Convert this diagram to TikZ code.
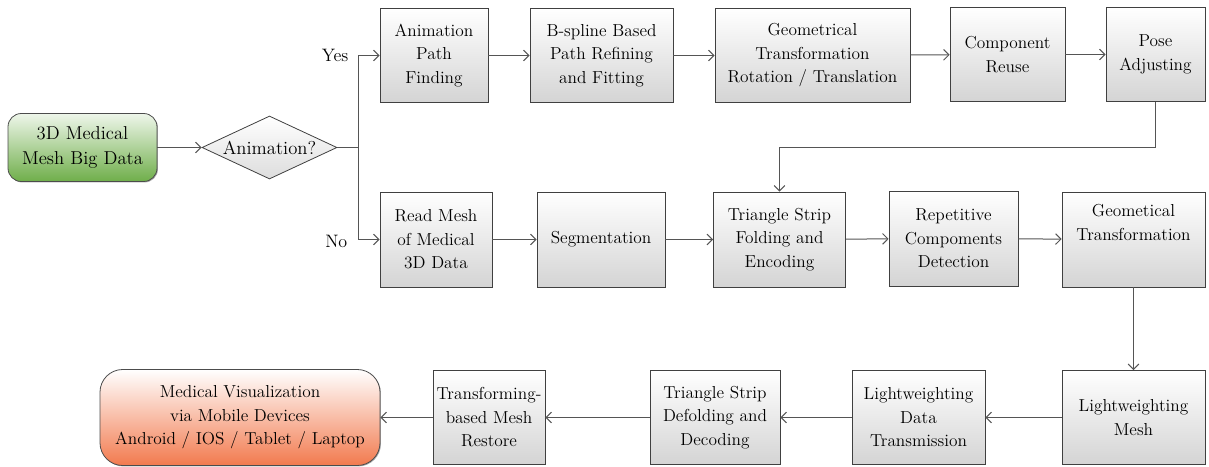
\documentclass[tikz,border=0pt]{standalone}
\usepackage{fontspec}
\usetikzlibrary{shapes.geometric,arrows.meta,shadows}
\definecolor{linegray}{HTML}{555555}
\definecolor{boxgray}{HTML}{D4D4D4}
\definecolor{startgreen}{HTML}{6FAE4A}
\definecolor{startlight}{HTML}{EEF6EA}
\definecolor{endorange}{HTML}{F27A4E}
\begin{document}
\begin{tikzpicture}[x=0.75pt,y=-0.75pt,
  wh/.style 2 args={minimum width=#1*0.75pt, minimum height=#2*0.75pt},
  shd/.style={drop shadow={shadow xshift=0.7pt, shadow yshift=-0.7pt, opacity=0.35, fill=black}},
  txt/.style={font=\fontsize{13pt}{17.6pt}\selectfont, align=center, text=black},
  stepbox/.style={txt, shd, draw=black!75, line width=0.6pt, top color=white, bottom color=boxgray, inner sep=0pt},
  startbox/.style={txt, shd, font=\fontsize{14pt}{18.5pt}\selectfont, draw=black!70, line width=0.6pt, rounded corners=10pt, top color=startlight, bottom color=startgreen, inner sep=0pt},
  endbox/.style={txt, shd, draw=black!70, line width=0.6pt, rounded corners=17pt, top color=white, bottom color=endorange, inner sep=0pt},
  decision/.style={txt, font=\fontsize{14pt}{18pt}\selectfont, diamond, aspect=2.14, draw=black!75, line width=0.6pt, top color=white, bottom color=boxgray!80, inner sep=0pt},
  conn/.style={draw=linegray, line width=0.75pt},
  arr/.style={conn, -{Straight Barb[length=4pt,width=8pt]}},
  lbl/.style={txt, font=\fontsize{13.5pt}{17pt}\selectfont}
]
\useasboundingbox (0,0) rectangle (1209,467);

% start and decision
\node[startbox, wh={149}{68}] (start) at (82.5,147.5) {3D Medical\\Mesh Big Data};
\node[decision, wh={135}{63}] (dm) at (269.5,147.5) {Animation?};
\coordinate (br) at (358.5,147.5);

% top row
\node[stepbox, wh={108}{94}] (ap) at (434,55.5) {Animation\\Path\\Finding};
\node[stepbox, wh={143}{94}] (bs) at (601.5,55.5) {B-spline Based\\Path Refining\\and Fitting};
\node[stepbox, wh={195}{94}] (gt) at (812.5,55.5) {Geometrical\\Transformation\\Rotation / Translation};
\node[stepbox, wh={115}{94}] (cr) at (1007.5,54.5) {Component\\Reuse};
\node[stepbox, wh={99}{94}] (pa) at (1155.5,54.5) {Pose\\Adjusting};

% middle row
\node[stepbox, wh={112}{95}] (rm) at (436,239.5) {Read Mesh\\of Medical\\3D Data};
\node[stepbox, wh={128}{95}] (sg) at (601,239.5) {Segmentation};
\node[stepbox, wh={132}{95}] (tf) at (779.5,239.5) {Triangle Strip\\Folding and\\Encoding};
\node[stepbox, wh={129}{95}] (rp) at (953.5,238.5) {Repetitive\\Compoments\\Detection};
\node[stepbox, wh={143}{95}] (gt2) at (1133.5,239.5) {Geometical\\Transformation\\[8pt]};

% bottom row
\node[stepbox, wh={143}{94}] (lm) at (1133.5,417.5) {Lightweighting\\Mesh};
\node[stepbox, wh={133}{94}] (ld) at (918.5,417.5) {Lightweighting\\Data\\Transmission};
\node[stepbox, wh={130}{94}] (td) at (715,417.5) {Triangle Strip\\Defolding and\\Decoding};
\node[stepbox, wh={112}{94}] (tb) at (489,417.5) {Transforming-\\based Mesh\\Restore};
\node[endbox, wh={280}{96}] (mv) at (240,417.5) {Medical Visualization\\via Mobile Devices\\Android / IOS / Tablet / Laptop};

% labels
\node[lbl, anchor=east] (yes) at (353,55) {Yes};
\node[lbl, anchor=east] (no) at (352,241) {No};

% connectors
\draw[arr] (start) -- (dm);
\draw[conn] (dm.east) -- (br);
\draw[arr] (br) |- (ap.west);
\draw[arr] (br) |- (rm.west);
\draw[arr] (ap) -- (bs);
\draw[arr] (bs) -- (gt);
\draw[arr] (gt) -- (cr);
\draw[arr] (cr) -- (pa);
\coordinate (bend) at (1155.5,147.5);
\draw[arr] (pa.south) -- (bend) -| (tf.north);
\draw[arr] (rm) -- (sg);
\draw[arr] (sg) -- (tf);
\draw[arr] (tf) -- (rp);
\draw[arr] (rp) -- (gt2);
\draw[arr] (gt2) -- (lm);
\draw[arr] (lm) -- (ld);
\draw[arr] (ld) -- (td);
\draw[arr] (td) -- (tb);
\draw[arr] (tb) -- (mv);
\end{tikzpicture}
\end{document}
